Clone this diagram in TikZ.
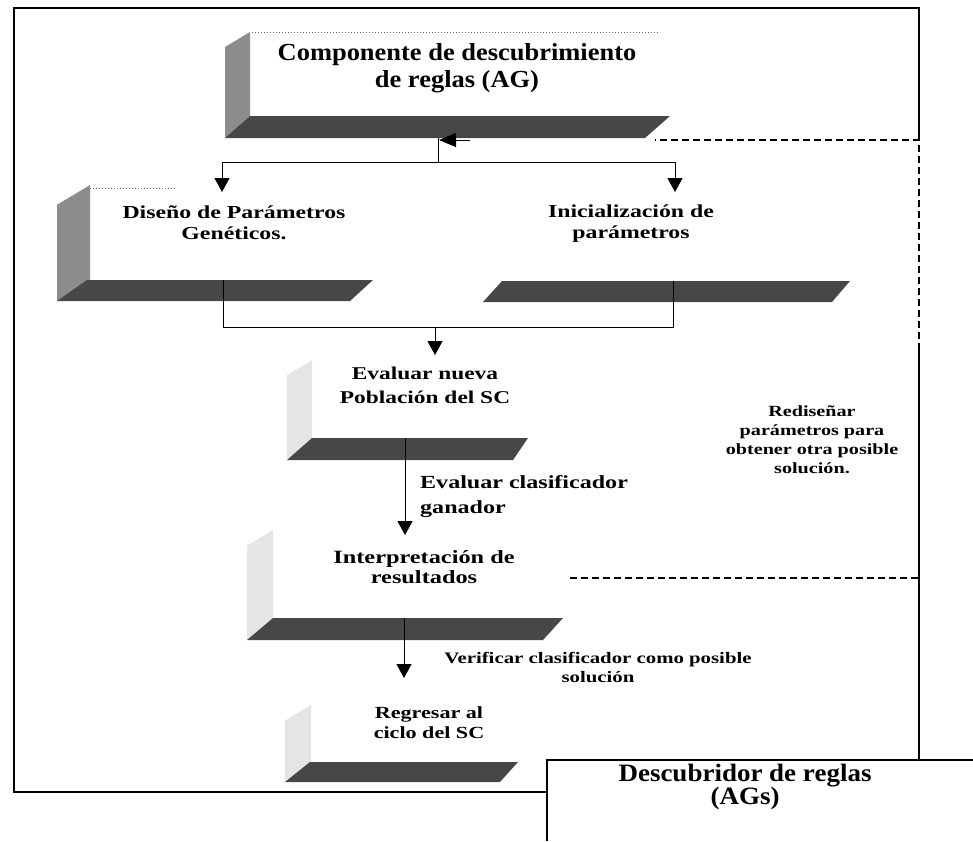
\documentclass[tikz,border=0pt]{standalone}
\usepackage{fontspec}
\setmainfont{Liberation Serif}
\newfontfamily\fontA[FakeStretch=1.08]{Liberation Serif}
\newfontfamily\fontB[FakeStretch=1.3]{Liberation Serif}
\usetikzlibrary{arrows.meta}
\newcommand\mkslab[7]{\fill[#7] (#1,#3) -- (#1+#5,#2) -- (#4+#6,#2) -- (#4,#3) -- cycle;}
\newcommand\mkside[6]{\fill[#6] (#1,#4) -- (#1,#2+#5*0.6) -- (#1+#5,#2) -- (#1+#5,#3) -- cycle;}
\begin{document}
\begin{tikzpicture}[x=1pt,y=-1pt,
  frame/.style={line width=1.3pt},
  conn/.style={line width=1pt},
  arr/.style={line width=1pt,-{Triangle[width=15pt,length=14pt]}},
  fb/.style={line width=1.6pt,dash pattern=on 7pt off 4pt},
  titletxt/.style={font=\fontA\bfseries\fontsize{24.5}{27}\selectfont,align=center,inner sep=0pt},
  boxtxt/.style={font=\fontB\bfseries\fontsize{18.3}{21}\selectfont,align=center,inner sep=0pt},
  midtxt/.style={font=\fontB\bfseries\fontsize{18}{23}\selectfont,align=center,inner sep=0pt},
  smalltxt/.style={font=\fontB\bfseries\fontsize{15.5}{19}\selectfont,align=center,inner sep=0pt},
  darkslab/.style={black!72},
  midside/.style={black!45},
  lightside/.style={black!10}]
\useasboundingbox (0,0) rectangle (973,841);
% outer frame
\coordinate (fTL) at (14,8);
\coordinate (fTR) at (919,8);
\coordinate (fRA) at (919,140);
\coordinate (fRM) at (919,350);
\coordinate (fRB) at (919,578);
\coordinate (fBR) at (919,760);
\coordinate (fBL) at (14,792);
\coordinate (fBM) at (547,792);
\draw[frame] (fRA) -- (fTR) -- (fTL) -- (fBL) -- (fBM);
\draw[frame] (fRM) -- (fBR);
% Box A
\mkside{225}{32}{116}{138}{25}{midside}
\mkslab{225}{116}{138}{645}{25}{25}{darkslab}
\draw[black!60,dotted,line width=1pt] (252,32) -- (660,32);
\node[titletxt] (tA) at (457,68) {Componente de descubrimiento\\de reglas (AG)};
% Box B
\mkside{57}{185}{280}{301}{33}{midside}
\mkslab{57}{280}{301}{350}{30}{23}{darkslab}
\draw[black!60,dotted,line width=1pt] (90,188) -- (175,188);
\node[boxtxt] (tB) at (234,223) {Diseño de Parámetros\\Genéticos.};
% Box C
\mkslab{483}{281}{302}{832}{19}{18}{darkslab}
\node[boxtxt] (tC) at (631,224) {Inicialización de\\parámetros};
% Box D
\mkside{287}{360}{438}{460}{25}{lightside}
\mkslab{287}{438}{460}{513}{25}{15}{darkslab}
\node[midtxt,font=\fontB\bfseries\fontsize{18}{24}\selectfont] (tD) at (425,385) {Evaluar nueva\\Población del SC};
% Box E
\mkside{247}{530}{618}{640}{26}{lightside}
\mkslab{247}{618}{640}{543}{26}{20}{darkslab}
\node[midtxt,font=\fontB\bfseries\fontsize{18.7}{20}\selectfont] (tE) at (424,567) {Interpretación de\\resultados};
% Box F
\mkside{285}{705}{762}{782}{26}{lightside}
\mkslab{285}{762}{782}{500}{25}{18}{darkslab}
\node[midtxt,font=\fontB\bfseries\fontsize{17}{20}\selectfont] (tF) at (429,723) {Regresar al\\ciclo del SC};
% Descubridor box
\coordinate (gTL) at (547,760);
\coordinate (gTR) at (973,760);
\coordinate (gBL) at (547,841);
\draw[frame] (gBL) -- (gTL) -- (gTR);
\node[titletxt,font=\fontA\bfseries\fontsize{25}{21}\selectfont] (tG) at (745,787) {Descubridor de reglas\\(AGs)};
% connectors
\coordinate (a1) at (438,138);
\coordinate (a2) at (438,162);
\coordinate (a3) at (222,162);
\coordinate (a4) at (675,162);
\coordinate (b1) at (222,192);
\coordinate (c1) at (675,192);
\draw[conn] (a1) -- (a2);
\draw[conn] (a3) -- (a4);
\draw[arr] (a3) -- (b1);
\draw[arr] (a4) -- (c1);
\coordinate (b2) at (223,280);
\coordinate (b3) at (223,327);
\coordinate (c2) at (673,281);
\coordinate (c3) at (673,327);
\coordinate (m1) at (435,327);
\coordinate (d1) at (435,355);
\draw[conn] (b2) -- (b3) -- (c3) -- (c2);
\draw[arr] (m1) -- (d1);
\coordinate (d2) at (405,438);
\coordinate (e1) at (405,535);
\draw[arr] (d2) -- (e1);
\node[midtxt,font=\fontB\bfseries\fontsize{18.5}{25}\selectfont,align=left,anchor=west] (lDE) at (420,497) {Evaluar clasificador\\ganador};
\coordinate (e2) at (404,618);
\coordinate (f1) at (404,678);
\draw[arr] (e2) -- (f1);
\node[smalltxt,font=\fontB\bfseries\fontsize{16}{19}\selectfont] (lEF) at (598,667) {Verificar clasificador como posible\\solución};
% feedback dashed loop
\coordinate (e3) at (570,578);
\coordinate (a5) at (439,140);
\draw[fb] (e3) -- (fRB) -- (fRM);
\draw[fb] (fRM) -- (fRA) -- (655,140);
\draw[line width=1pt,-{Triangle[width=14pt,length=17pt]}] (470,140) -- (a5);
\node[smalltxt] (lR) at (812,440) {Rediseñar\\parámetros para\\obtener otra posible\\solución.};
\end{tikzpicture}
\end{document}
